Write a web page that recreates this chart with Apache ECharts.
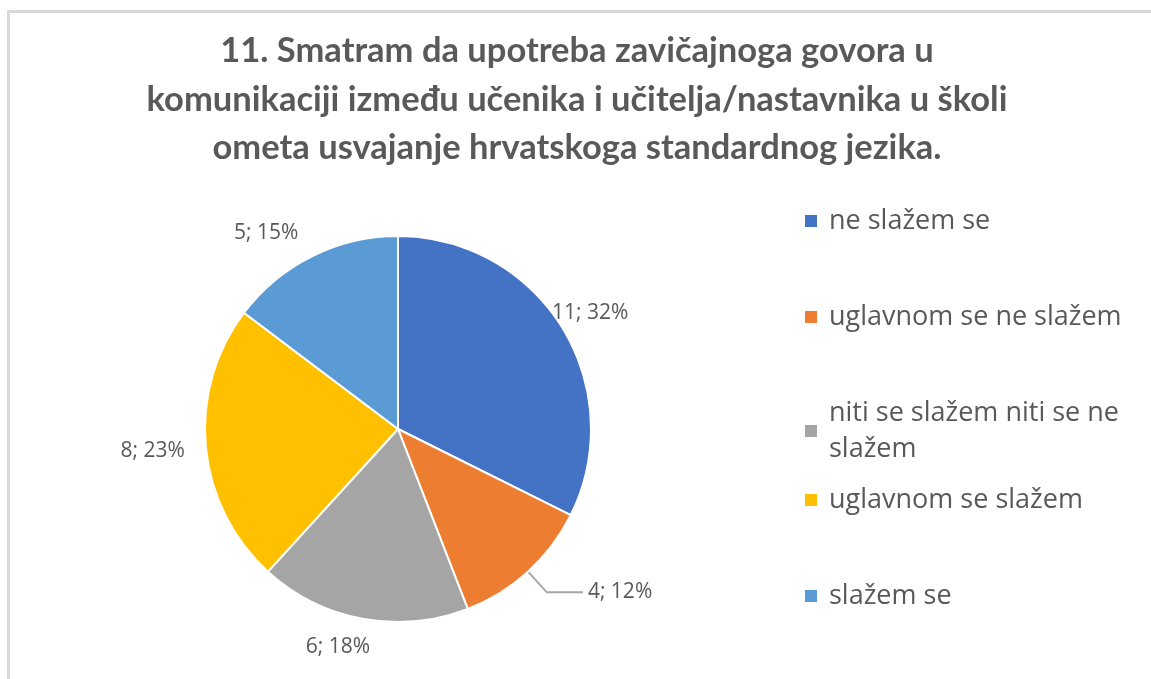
<!DOCTYPE html>
<html>
<head>
<meta charset="utf-8">
<script src="https://cdn.jsdelivr.net/npm/echarts@6/dist/echarts.min.js"></script>
<style>
  html, body { margin: 0; padding: 0; background: #fff; }
  #chart { width: 1151px; height: 679px; }
  .frame {
    position: absolute;
    left: 7px;
    top: 10px;
    width: 1200px;
    height: 700px;
    border-left: 3px solid #d9d9d9;
    border-top: 3px solid #d9d9d9;
    pointer-events: none;
  }
</style>
</head>
<body>
<div id="chart"></div>
<div class="frame"></div>
<script>
const titleText = '11. Smatram da upotreba zavičajnoga govora u\nkomunikaciji između učenika i učitelja/nastavnika u školi\nometa usvajanje hrvatskoga standardnog jezika.'
const categories = ['ne slažem se', 'uglavnom se ne slažem', 'niti se slažem niti se ne slažem', 'uglavnom se slažem', 'slažem se']
const counts = [11, 4, 6, 8, 5]
const colors = ['#4472C4', '#ED7D31', '#A5A5A5', '#FFC000', '#5B9BD5']

// nudge the data labels to where Excel put them
const labelShift = [[-22, -10], [0, 0], [14, 20], [-8, 3], [-5, -16]]

const chart = echarts.init(document.getElementById('chart'))

// the long legend entry wraps before its last word, like in Excel
const wrapLegend = (name) => {
  if (name.length < 25) return name
  const cut = name.lastIndexOf(' ')
  return name.slice(0, cut) + '\n' + name.slice(cut + 1)
}

const legendBase = {
  orient: 'vertical',
  left: 803,
  padding: 0,
  itemWidth: 14,
  itemHeight: 14,
  itemGap: 60,
  icon: 'rect',
  formatter: wrapLegend,
  textStyle: {
    color: '#595959',
    fontFamily: '"Open Sans", sans-serif',
    fontSize: 27,
    lineHeight: 36,
    padding: [0, 0, 0, 6]
  }
}

const option = {
  animation: false,
  color: colors,
  title: {
    text: titleText,
    left: 572,
    top: 22,
    textAlign: 'center',
    textStyle: {
      color: '#595959',
      fontFamily: 'Lato, sans-serif',
      fontWeight: 'bold',
      fontSize: 34.5,
      lineHeight: 48.5
    }
  },
  legend: [
    { ...legendBase, top: 203, data: categories.slice(0, 3) },
    { ...legendBase, top: 482, data: categories.slice(3) }
  ],
  series: [
    {
      type: 'pie',
      center: [398, 429],
      radius: 193,
      startAngle: 90,
      clockwise: true,
      percentPrecision: 0,
      itemStyle: { borderColor: '#fff', borderWidth: 2 },
      label: {
        position: 'outside',
        formatter: '{c}; {d}%',
        color: '#595959',
        fontFamily: '"Open Sans", sans-serif',
        fontSize: 21
      },
      labelLine: { show: false, length: 8, length2: 0 },
      labelLayout: (params) => {
        const s = labelShift[params.dataIndex]
        return { dx: s[0], dy: s[1] }
      },
      data: categories.map((name, i) => {
        const item = { name, value: counts[i] }
        if (i === 1) {
          item.labelLine = {
            show: true,
            length: 28,
            length2: 36,
            lineStyle: { color: '#a6a6a6', width: 2 }
          }
        }
        return item
      })
    }
  ]
}

chart.setOption(option)
</script>
</body>
</html>
